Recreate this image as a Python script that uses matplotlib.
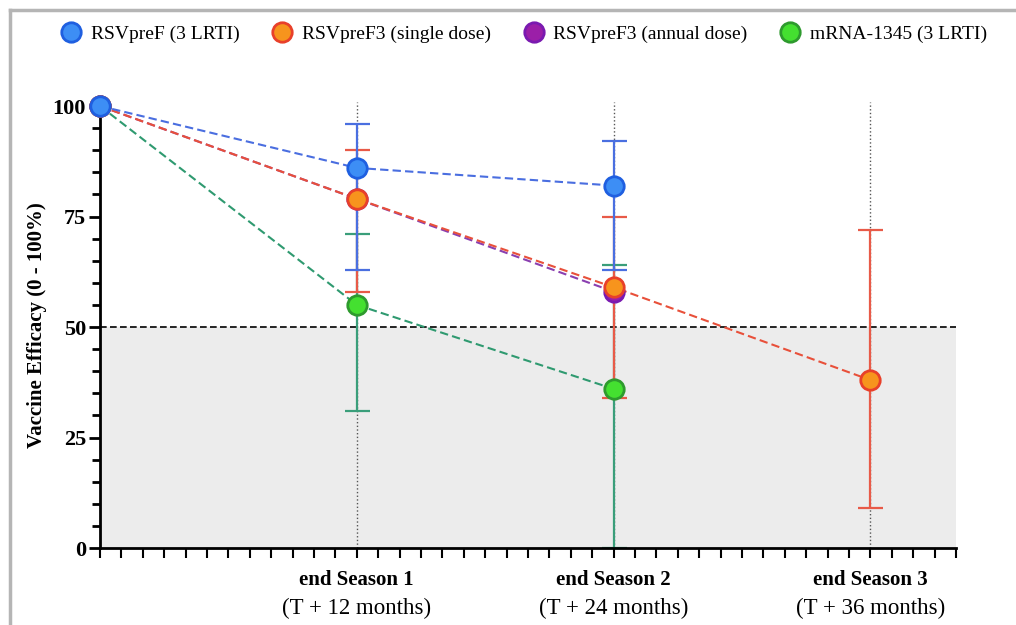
import numpy as np
import matplotlib.pyplot as plt
from matplotlib.ticker import MultipleLocator
from matplotlib.lines import Line2D

plt.rcParams['font.family'] = ['Liberation Serif', 'DejaVu Serif']

# months after start
season_ticks = [12, 24, 36]
season_names = ['end Season 1', 'end Season 2', 'end Season 3']
season_months = ['(T + 12 months)', '(T + 24 months)', '(T + 36 months)']

# efficacy (%) and confidence bounds
rsvpref_x = [0, 12, 24]
rsvpref_y = [100, 86, 82]
rsvpref_lo = [100, 63, 63]
rsvpref_hi = [100, 96, 92]

single_x = [0, 12, 24, 36]
single_y = [100, 79, 59, 38]
single_lo = [100, 58, 34, 9]
single_hi = [100, 90, 75, 72]

annual_x = [0, 12, 24]
annual_y = [100, 79, 58]

mrna_x = [0, 12, 24]
mrna_y = [100, 55, 36]
mrna_lo = [100, 31, 0]
mrna_hi = [100, 71, 64]

threshold = 50

fig = plt.figure(figsize=(10.16, 6.25), dpi=100)
ax = fig.add_axes([100 / 1016, 1 - 548 / 625, 856 / 1016, 446.4 / 625])

ax.set_xlim(0, 40)
ax.set_ylim(0, 101)

# shaded region under the threshold + dashed line
ax.axhspan(0, threshold, color='#ececec', zorder=0)
ax.axhline(threshold, color='black', ls=(0, (4, 2)), lw=1.2, zorder=1)

# dotted season lines
for m in season_ticks:
    ax.axvline(m, color='#555555', ls=':', lw=1.0, zorder=1)


def err(y, lo, hi):
    # skip the starting point (no interval)
    y, lo, hi = np.array(y[1:]), np.array(lo[1:]), np.array(hi[1:])
    return [y - lo, hi - y]


# --------- error bars
ax.errorbar(mrna_x[1:], mrna_y[1:], yerr=err(mrna_y, mrna_lo, mrna_hi),
            fmt='none', ecolor='#3a9e7a', elinewidth=1.6, capsize=9, capthick=1.6, zorder=2)
ax.errorbar(single_x[1:], single_y[1:], yerr=err(single_y, single_lo, single_hi),
            fmt='none', ecolor='#e85a48', elinewidth=1.6, capsize=9, capthick=1.6, zorder=2)
ax.errorbar(rsvpref_x[1:], rsvpref_y[1:], yerr=err(rsvpref_y, rsvpref_lo, rsvpref_hi),
            fmt='none', ecolor='#4a6fe0', elinewidth=1.6, capsize=9, capthick=1.6, zorder=2)

# --------- dashed lines + markers
dash = (0, (4, 2))
ax.plot(mrna_x, mrna_y, color='#2f9a70', ls=dash, lw=1.5, zorder=3)
ax.plot(mrna_x, mrna_y, 'o', ms=14, mfc='#44e030', mec='#2e9a2e', mew=2, zorder=5, clip_on=False)

ax.plot(annual_x, annual_y, color='#8a3fb0', ls=dash, lw=1.5, zorder=3)
ax.plot(annual_x, annual_y, 'o', ms=14, mfc='#9b1fa8', mec='#7a1ab0', mew=2, zorder=5, clip_on=False)

ax.plot(single_x, single_y, color='#e8503a', ls=dash, lw=1.5, zorder=3)
ax.plot(single_x, single_y, 'o', ms=14, mfc='#f7941d', mec='#e8402a', mew=2, zorder=6, clip_on=False)

ax.plot(rsvpref_x, rsvpref_y, color='#4a6ee0', ls=dash, lw=1.5, zorder=3)
ax.plot(rsvpref_x, rsvpref_y, 'o', ms=14, mfc='#3d8ef5', mec='#1f5fe0', mew=2, zorder=7, clip_on=False)

# --------- axes styling
for s in ['top', 'right']:
    ax.spines[s].set_visible(False)
for s in ['left', 'bottom']:
    ax.spines[s].set_linewidth(2)

ax.yaxis.set_major_locator(MultipleLocator(25))
ax.yaxis.set_minor_locator(MultipleLocator(5))
ax.xaxis.set_minor_locator(MultipleLocator(1))
ax.set_xticks(season_ticks)
ax.set_xticklabels(season_names, fontsize=15, fontweight='bold')
ax.tick_params(axis='x', which='major', length=7, width=1.5, pad=9)
ax.tick_params(axis='x', which='minor', length=7, width=1.5)
ax.tick_params(axis='y', which='major', length=8, width=2, labelsize=16, pad=2)
ax.tick_params(axis='y', which='minor', length=6, width=2)
for lab in ax.get_yticklabels():
    lab.set_fontweight('bold')

for m, txt in zip(season_ticks, season_months):
    ax.annotate(txt, xy=(m, 0), xycoords=('data', 'axes fraction'), xytext=(0, -36),
                textcoords='offset points', ha='center', va='top', fontsize=16.5)

ax.set_ylabel('Vaccine Efficacy (0 - 100%)', fontsize=15, fontweight='bold', labelpad=4)

# --------- legend
handles = [
    Line2D([], [], ls='None', marker='o', ms=14, mfc='#3d8ef5', mec='#1f5fe0', mew=2),
    Line2D([], [], ls='None', marker='o', ms=14, mfc='#f7941d', mec='#e8402a', mew=2),
    Line2D([], [], ls='None', marker='o', ms=14, mfc='#9b1fa8', mec='#7a1ab0', mew=2),
    Line2D([], [], ls='None', marker='o', ms=14, mfc='#44e030', mec='#2e9a2e', mew=2),
]
labels = ['RSVpreF (3 LRTI)', 'RSVpreF3 (single dose)', 'RSVpreF3 (annual dose)', 'mRNA-1345 (3 LRTI)']
fig.legend(handles, labels, loc='center', bbox_to_anchor=(0.515, 1 - 34 / 625), ncol=4,
           frameon=False, fontsize=14, handletextpad=0.4, columnspacing=1.6, handlelength=1.2)

# grey frame
fig.add_artist(Line2D([10 / 1016, 1.0], [1 - 10 / 625, 1 - 10 / 625], color='#b5b5b5', lw=2.5))
fig.add_artist(Line2D([10 / 1016, 10 / 1016], [0.0, 1 - 10 / 625], color='#b5b5b5', lw=2.5))

fig.savefig('out.png', dpi=100)
